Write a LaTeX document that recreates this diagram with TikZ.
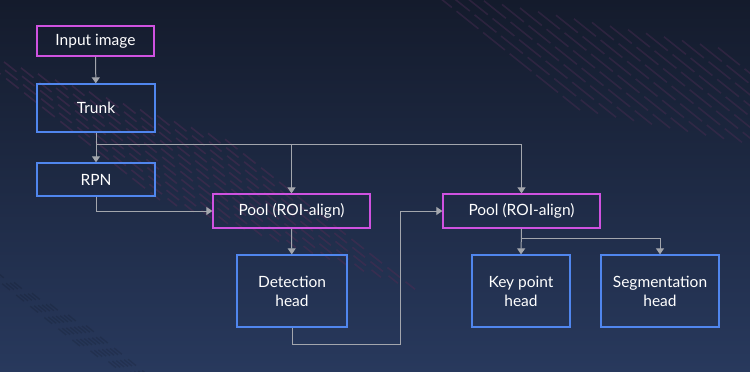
\documentclass[tikz,border=0pt]{standalone}
\usepackage{fontspec}
\setmainfont{Lato}
\usetikzlibrary{arrows.meta}
\definecolor{bgtop}{HTML}{141B2C}
\definecolor{bgbot}{HTML}{28395D}
\definecolor{boxpink}{HTML}{CF52E0}
\definecolor{boxblue}{HTML}{5086EE}
\definecolor{linkgray}{HTML}{A3A6AD}
\definecolor{stripe}{HTML}{4A2C52}
\begin{document}
\begin{tikzpicture}[x=1pt, y=-1pt,
    every node/.style={line width=1.3pt, text=white, font=\fontsize{15.5}{19}\selectfont, align=center, inner sep=0pt},
    poolbox/.style={draw=boxpink},
    stagebox/.style={draw=boxblue},
    link/.style={draw=linkgray, line width=1pt, -{Triangle[length=6pt, width=8pt]}}]
    % background
    \shade[top color=bgtop, bottom color=bgbot] (0,0) rectangle (750,372);
    \useasboundingbox (0,0) rectangle (750,372);
    \begin{scope}
        \clip (0,0) rectangle (750,372);
        \foreach \s in {0,17,...,255} {
            \draw[stripe, opacity=0.55, line width=1.6pt, dash pattern=on 16pt off 7pt] (\s-30,50+\s*0.35) -- ++(190,150);
        }
        \foreach \s in {0,18,...,300} {
            \draw[stripe, opacity=0.45, line width=1.6pt, dash pattern=on 28pt off 6pt] (430+\s,-10+\s*0.2) -- ++(150,120);
        }
        \foreach \s in {0,18,...,126} {
            \draw[black, opacity=0.12, line width=1.4pt, dash pattern=on 10pt off 8pt] (\s-40,250+\s*0.6) -- ++(120,96);
        }
    \end{scope}

    % blocks
    \node[poolbox, minimum width=117pt, minimum height=30pt] (input) at (95.5,41) {Input image};
    \node[stagebox, minimum width=118pt, minimum height=48pt] (trunk) at (96,108) {Trunk};
    \node[stagebox, minimum width=118pt, minimum height=33pt] (rpn) at (96,179.5) {RPN};
    \node[poolbox, minimum width=157pt, minimum height=34pt] (pool1) at (291.5,211) {Pool (ROI-align)};
    \node[stagebox, minimum width=110pt, minimum height=72pt] (det) at (292,291) {Detection\\head};
    \node[poolbox, minimum width=157pt, minimum height=34pt] (pool2) at (521.5,211) {Pool (ROI-align)};
    \node[stagebox, minimum width=98pt, minimum height=72pt] (key) at (521,291) {Key point\\head};
    \node[stagebox, minimum width=118pt, minimum height=72pt] (seg) at (660,291) {Segmentation\\head};

    % split points
    \coordinate (trunksplit) at (96,144);
    \coordinate (detout) at (400,344);
    \coordinate (poolsplit) at (521,238);

    % links
    \draw[link] (input) -- (trunk);
    \draw[link] (trunk) -- (rpn);
    \draw[link] (trunksplit) -| (pool1.north);
    \draw[link] (trunksplit) -| (pool2.north);
    \draw[link] (rpn.south) |- (pool1.west);
    \draw[link] (pool1) -- (det);
    \draw[link] (det.south) |- (detout) |- (pool2.west);
    \draw[link] (pool2.south) -- (key.north);
    \draw[link] (poolsplit) -| (seg.north);
\end{tikzpicture}
\end{document}
